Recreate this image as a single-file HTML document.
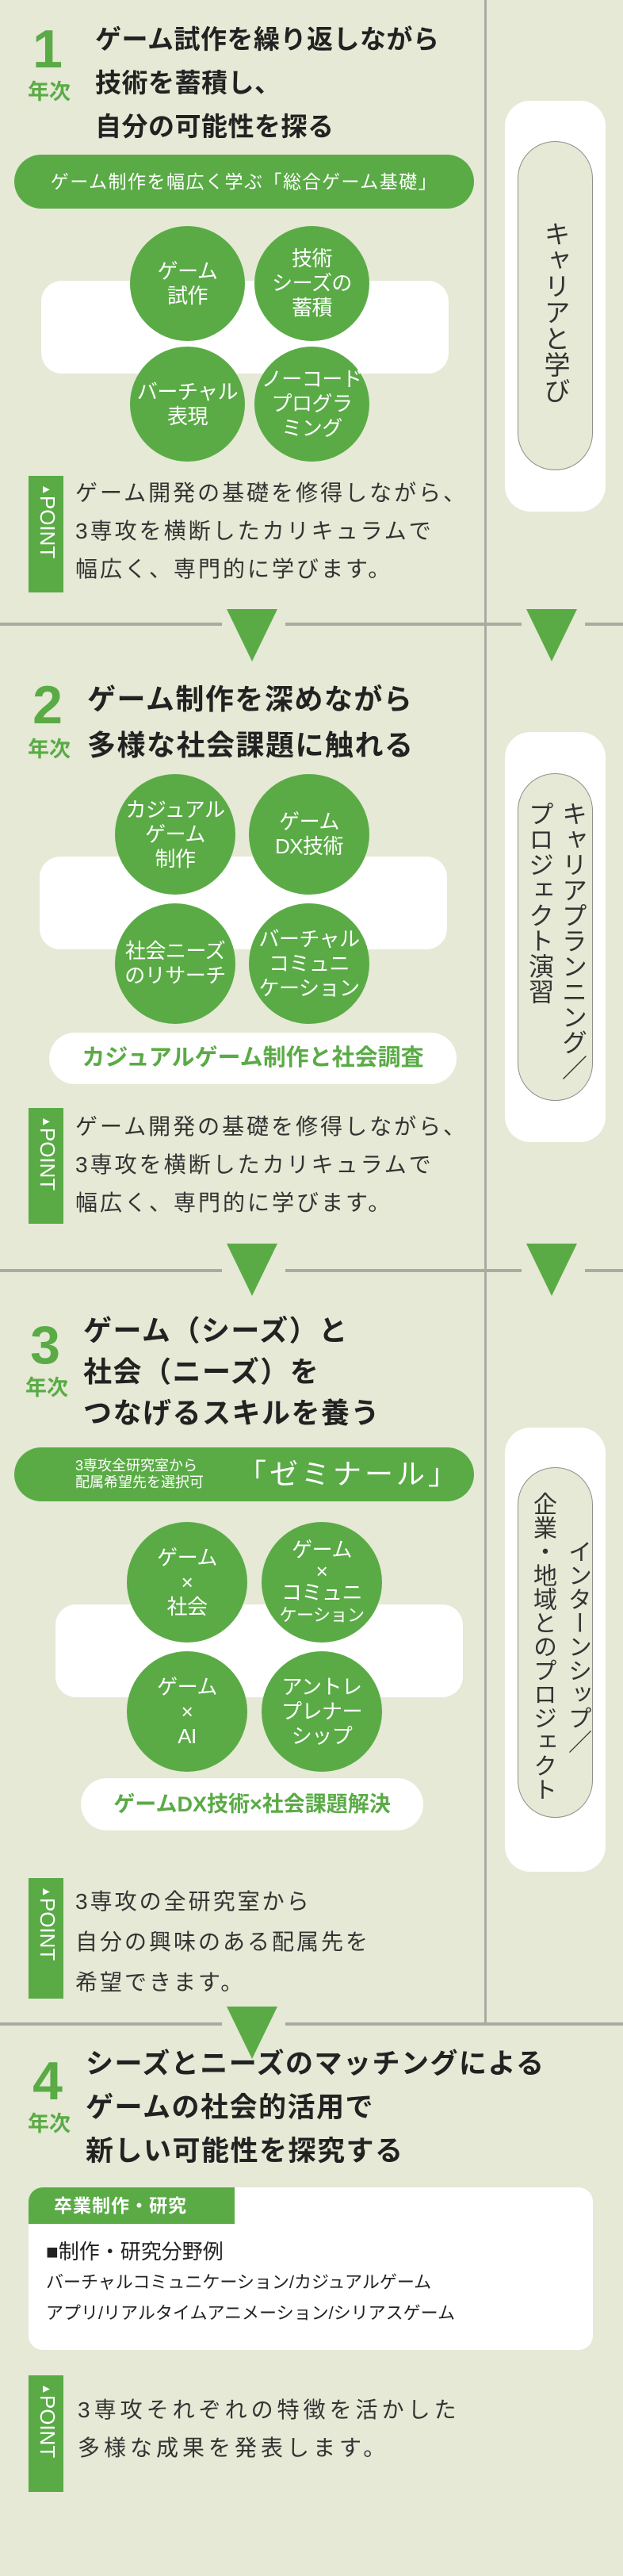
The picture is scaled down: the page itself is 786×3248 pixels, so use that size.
<!DOCTYPE html>
<html><head><meta charset="utf-8">
<style>
*{margin:0;padding:0;box-sizing:border-box}
body{width:786px;height:3248px;background:#e5e9d5;position:relative;overflow:hidden;font-family:"Liberation Sans","Noto Sans CJK JP",sans-serif;color:#2a2a2a}
.a{position:absolute}
.vline{position:absolute;left:611px;top:0;width:3px;height:2552px;background:#a9aba3}
.hline{position:absolute;left:0;width:786px;height:4px;background:#a9aba3}
.gap{position:absolute;width:80px;height:6px;background:#e5e9d5}
.tri{position:absolute;width:0;height:0;border-left:32px solid transparent;border-right:32px solid transparent;border-top:66px solid #5aab46}
.num{position:absolute;color:#5aab46;font-weight:bold;font-size:68px;line-height:1;width:70px;text-align:center}
.nen{position:absolute;color:#5aab46;font-weight:bold;font-size:27px;line-height:1}
.title{position:absolute;font-weight:bold;font-size:34px;line-height:55px;letter-spacing:1.5px;color:#222;white-space:nowrap}
.pill{position:absolute;background:#5aab46;border-radius:40px;color:#fff;text-align:center;white-space:nowrap}
.wrect{position:absolute;background:#fff;border-radius:26px}
.c{position:absolute;width:152px;height:152px;border-radius:50%;background:#5aab46;color:#fff;font-size:26px;line-height:31px;display:flex;align-items:center;justify-content:center;white-space:nowrap;letter-spacing:-0.5px}
.c>div{text-align:center}
.pt{position:absolute;left:36px;width:44px;background:#5aab46;color:#fff}
.pt span{position:absolute;left:8px;top:10px;writing-mode:vertical-rl;text-orientation:sideways;font-size:26px;line-height:28px;letter-spacing:0}
.pt small{font-size:15px;vertical-align:middle}
.ptx{position:absolute;font-size:28px;line-height:48px;letter-spacing:3px;color:#333;white-space:nowrap}
.rp{position:absolute;left:637px;width:127px;background:#fff;border-radius:32px}
.ip{position:absolute;left:653px;width:95px;border:1.5px solid #8f918a;border-radius:47px;background:#e5e9d5}
.vt{position:absolute;writing-mode:vertical-rl;font-size:33px;line-height:42px;color:#333;white-space:nowrap}
.wpill{position:absolute;background:#fff;border-radius:34px;color:#5aab46;font-weight:bold;text-align:center;white-space:nowrap}
</style></head><body>
<div class="vline"></div>

<div class="hline" style="top:785px"></div>
<div class="gap" style="left:280px;top:784px"></div><div class="gap" style="left:658px;top:784px"></div>
<div class="tri" style="left:286px;top:768px"></div><div class="tri" style="left:664px;top:768px"></div>
<div class="hline" style="top:1600px"></div>
<div class="gap" style="left:280px;top:1599px"></div><div class="gap" style="left:658px;top:1599px"></div>
<div class="tri" style="left:286px;top:1568px"></div><div class="tri" style="left:664px;top:1568px"></div>
<div class="hline" style="top:2550px"></div>
<div class="gap" style="left:280px;top:2549px"></div>
<div class="tri" style="left:286px;top:2530px"></div>

<!-- Section 1 -->
<div class="num" style="left:25px;top:28px">1</div>
<div class="nen" style="left:35px;top:103px">年次</div>
<div class="title" style="left:120px;top:22px;font-size:33px;letter-spacing:0.5px">ゲーム試作を繰り返しながら<br>技術を蓄積し、<br>自分の可能性を探る</div>
<div class="pill" style="left:18px;top:195px;width:580px;height:68px;font-size:23px;line-height:68px;letter-spacing:1.5px">ゲーム制作を幅広く学ぶ「総合ゲーム基礎」</div>
<div class="wrect" style="left:52px;top:354px;width:514px;height:117px"></div>
<div class="c" style="left:164px;top:285px;width:145px;height:145px"><div>ゲーム<br>試作</div></div>
<div class="c" style="left:321px;top:285px;width:145px;height:145px"><div>技術<br>シーズの<br>蓄積</div></div>
<div class="c" style="left:164px;top:437px;width:145px;height:145px"><div>バーチャル<br>表現</div></div>
<div class="c" style="left:321px;top:437px;width:145px;height:145px"><div>ノーコード<br>プログラ<br>ミング</div></div>
<div class="pt" style="top:600px;height:147px"><span><small>▲</small>POINT</span></div>
<div class="ptx" style="left:95px;top:598px">ゲーム開発の基礎を修得しながら、<br>3専攻を横断したカリキュラムで<br>幅広く、専門的に学びます。</div>
<div class="rp" style="top:127px;height:518px"></div>
<div class="ip" style="top:178px;height:415px"></div>
<div class="vt" style="left:679px;top:278px">キャリアと学び</div>

<!-- Section 2 -->
<div class="num" style="left:25px;top:855px">2</div>
<div class="nen" style="left:35px;top:932px">年次</div>
<div class="title" style="left:110px;top:853px;font-size:36px;line-height:58px">ゲーム制作を深めながら<br>多様な社会課題に触れる</div>
<div class="wrect" style="left:50px;top:1080px;width:514px;height:117px"></div>
<div class="c" style="left:145px;top:976px"><div>カジュアル<br>ゲーム<br>制作</div></div>
<div class="c" style="left:314px;top:976px"><div>ゲーム<br>DX技術</div></div>
<div class="c" style="left:145px;top:1139px"><div>社会ニーズ<br>のリサーチ</div></div>
<div class="c" style="left:314px;top:1139px"><div>バーチャル<br>コミュニ<br>ケーション</div></div>
<div class="wpill" style="left:62px;top:1302px;width:514px;height:65px;font-size:29px;line-height:65px">カジュアルゲーム制作と社会調査</div>
<div class="pt" style="top:1397px;height:146px"><span><small>▲</small>POINT</span></div>
<div class="ptx" style="left:95px;top:1397px">ゲーム開発の基礎を修得しながら、<br>3専攻を横断したカリキュラムで<br>幅広く、専門的に学びます。</div>
<div class="rp" style="top:923px;height:517px"></div>
<div class="ip" style="top:975px;height:413px"></div>
<div class="vt" style="left:660px;top:1010px;line-height:42px;font-size:32px">キャリアプランニング／<br>プロジェクト演習</div>

<!-- Section 3 -->
<div class="num" style="left:22px;top:1662px">3</div>
<div class="nen" style="left:32px;top:1737px">年次</div>
<div class="title" style="left:105px;top:1652px;font-size:36px;line-height:52px">ゲーム（シーズ）と<br>社会（ニーズ）を<br>つなげるスキルを養う</div>
<div class="pill" style="left:18px;top:1825px;width:580px;height:68px"></div>
<div class="a" style="left:95px;top:1838px;font-size:18px;line-height:21px;color:#fff;white-space:nowrap">3専攻全研究室から<br>配属希望先を選択可</div>
<div class="a" style="left:300px;top:1836px;font-size:36px;line-height:46px;color:#fff;white-space:nowrap;letter-spacing:4px">「ゼミナール」</div>
<div class="wrect" style="left:70px;top:2023px;width:514px;height:117px"></div>
<div class="c" style="left:160px;top:1919px"><div>ゲーム<br>×<br>社会</div></div>
<div class="c" style="left:330px;top:1919px;line-height:27px"><div>ゲーム<br>×<br>コミュニ<br><span style="font-size:22px">ケーション</span></div></div>
<div class="c" style="left:160px;top:2082px"><div>ゲーム<br>×<br>AI</div></div>
<div class="c" style="left:330px;top:2082px"><div>アントレ<br>プレナー<br>シップ</div></div>
<div class="wpill" style="left:102px;top:2242px;width:432px;height:66px;font-size:27px;line-height:66px">ゲームDX技術×社会課題解決</div>
<div class="pt" style="top:2368px;height:152px"><span><small>▲</small>POINT</span></div>
<div class="ptx" style="left:95px;top:2372px;line-height:51px">3専攻の全研究室から<br>自分の興味のある配属先を<br>希望できます。</div>
<div class="rp" style="top:1800px;height:560px"></div>
<div class="ip" style="top:1850px;height:442px"></div>
<div class="vt" style="left:662px;top:1876px;height:400px;text-align:center;line-height:44px;font-size:30px">インターンシップ／<br>企業・地域とのプロジェクト</div>

<!-- Section 4 -->
<div class="num" style="left:25px;top:2590px">4</div>
<div class="nen" style="left:35px;top:2665px">年次</div>
<div class="title" style="left:108px;top:2575px;font-size:35px">シーズとニーズのマッチングによる<br>ゲームの社会的活用で<br>新しい可能性を探究する</div>
<div class="a" style="left:36px;top:2758px;width:712px;height:205px;background:#fff;border-radius:18px;overflow:hidden">
  <div class="a" style="left:0;top:0;width:260px;height:46px;background:#5aab46;color:#fff;font-weight:bold;font-size:23px;line-height:46px;padding-left:32px;letter-spacing:1px">卒業制作・研究</div>
  <div class="a" style="left:22px;top:62px;font-size:26px;line-height:38px;color:#222;white-space:nowrap">■制作・研究分野例</div>
  <div class="a" style="left:22px;top:100px;font-size:22px;line-height:39px;color:#222;white-space:nowrap">バーチャルコミュニケーション/カジュアルゲーム<br>アプリ/リアルタイムアニメーション/シリアスゲーム</div>
</div>
<div class="pt" style="top:2995px;height:147px"><span><small>▲</small>POINT</span></div>
<div class="ptx" style="left:98px;top:3015px;line-height:48px;letter-spacing:5px">3専攻それぞれの特徴を活かした<br>多様な成果を発表します。</div>
</body></html>
